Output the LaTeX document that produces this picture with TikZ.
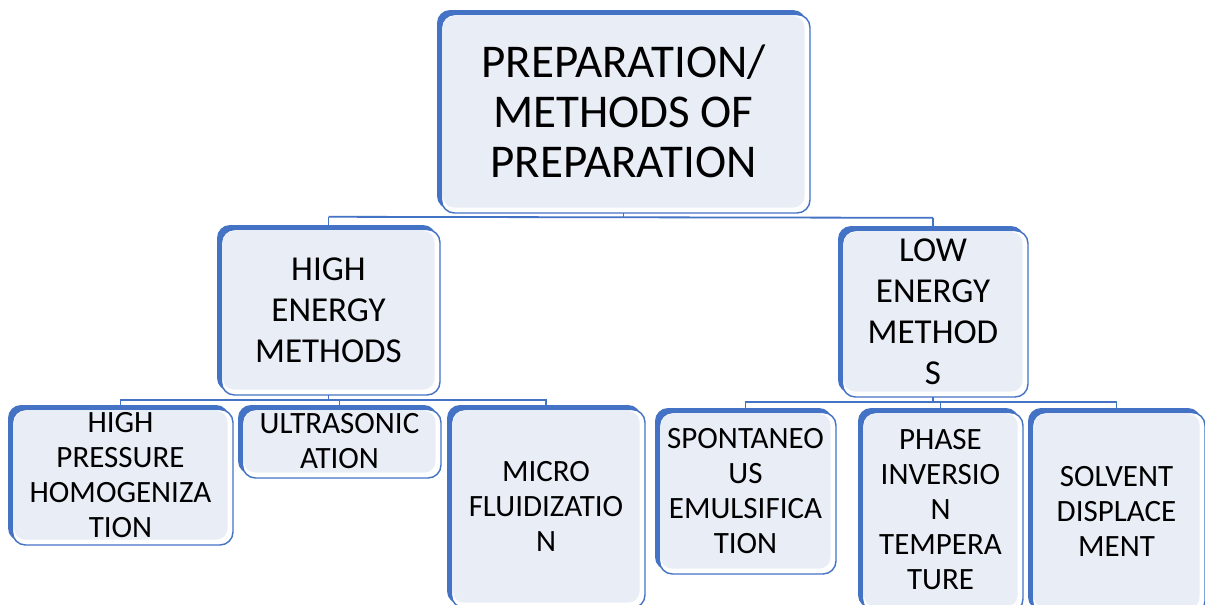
\documentclass[tikz,border=0pt]{standalone}
\usepackage{fontspec}
\setmainfont{Carlito}
\definecolor{mblue}{HTML}{4472C4}
\definecolor{mfill}{HTML}{E9EDF6}
\tikzset{
  conn/.style={draw=mblue, line width=1.8pt},
  boxtext/.style={align=center, text=black, inner sep=0pt},
  bigtxt/.style={font=\fontsize{47}{50}\selectfont},
  midtxt/.style={font=\fontsize{35}{41}\selectfont},
  smalltxt/.style={font=\fontsize{31}{35}\selectfont}
}
% #1 name, #2 x0, #3 y0, #4 x1, #5 y1, #6 text style, #7 text
\newcommand\mybox[7]{%
  \fill[mblue, rounded corners=13pt] (#2,#3) rectangle (#4-4,#5-4);
  \filldraw[fill=white, draw=mblue, line width=1.4pt, rounded corners=13pt] (#2+4.5,#3+4.5) rectangle (#4,#5);
  \fill[mfill, rounded corners=11pt] (#2+6,#3+6) rectangle (#4-5.5,#5-5.5);
  \node[boxtext, #6, minimum width={(#4-#2)*1pt}, minimum height={(#5-#3)*1pt}] (#1) at ({(#2+#4)/2},{(#3+#5)/2}) {#7};
}
\begin{document}
\begin{tikzpicture}[x=1pt,y=-1pt]
\useasboundingbox (0,0) rectangle (1205,605);
\clip (0,0) rectangle (1205,605);
\fill[white] (0,0) rectangle (1205,605);

\mybox{top}{437}{10}{810}{213}{bigtxt}{PREPARATION/\\METHODS OF\\PREPARATION}
\mybox{he}{217}{225}{440}{395}{midtxt}{HIGH\\ENERGY\\METHODS}
\mybox{le}{838}{226}{1028}{397}{midtxt}{LOW\\ENERGY\\METHOD\\S}

\mybox{hp}{8}{405}{233}{545}{smalltxt}{HIGH\\PRESSURE\\HOMOGENIZA\\TION}
\mybox{us}{238}{405}{441}{478}{smalltxt}{ULTRASONIC\\ATION}
\mybox{mf}{447}{405}{645}{608}{smalltxt}{MICRO\\FLUIDIZATIO\\N}

\mybox{se}{655}{408}{836}{574}{smalltxt}{SPONTANEO\\US\\EMULSIFICA\\TION}
\mybox{pi}{858}{408}{1023}{612}{smalltxt}{PHASE\\INVERSIO\\N\\TEMPERA\\TURE}
\mybox{sd}{1028}{408}{1205}{614}{smalltxt}{SOLVENT\\DISPLACE\\MENT}

% connectors
\draw[conn] (top.south) -- ++(0,3.5) coordinate (b1);
\draw[conn] (he.north) -- ++(0,-8) coordinate (c1);
\draw[conn] (le.north) -- ++(0,-8) coordinate (c2);
\draw[conn] (c1) -- (c2);

\draw[conn] (he.south) -- ++(0,5) coordinate (b2);
\draw[conn] (hp.north) -- ++(0,-5) coordinate (d1) -- (d1 -| mf.north) -- (mf.north);
\draw[conn] (us.north) -- ++(0,-5);

\draw[conn] (le.south) -- ++(0,5.5) coordinate (b3);
\draw[conn] (se.north) -- ++(0,-6) coordinate (e1) -- (e1 -| sd.north) -- (sd.north);
\draw[conn] (pi.north) -- ++(0,-6);
\end{tikzpicture}
\end{document}
